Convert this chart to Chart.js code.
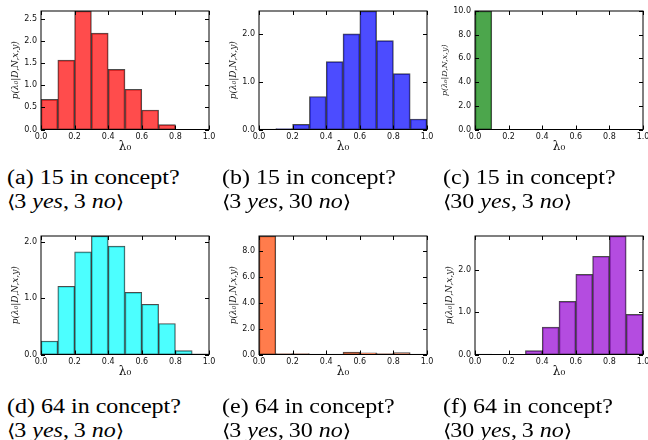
<!DOCTYPE html>
<html>
<head>
<meta charset="utf-8">
<script src="https://cdn.jsdelivr.net/npm/chart.js@4.4.0/dist/chart.umd.min.js"></script>
<style>
  html, body { margin: 0; padding: 0; background: #fff; }
  body { width: 648px; height: 440px; position: relative; overflow: hidden; }
  .panel { position: absolute; }
  .cap {
    position: absolute;
    font-family: "Liberation Serif", "DejaVu Serif", serif;
    font-size: 20px;
    line-height: 24px;
    color: #000;
    white-space: nowrap;
    transform: scaleX(1.2);
    transform-origin: 0 0;
  }
  .cap i { font-style: italic; }
  .cap .br { font-size: 18px; letter-spacing: -1px; }
</style>
</head>
<body>
<script>
// histogram bins of lambda_0 (bin centres) and axis ticks
const binCenters = [0.05, 0.15, 0.25, 0.35, 0.45, 0.55, 0.65, 0.75, 0.85, 0.95];
const xTicks = [0.0, 0.2, 0.4, 0.6, 0.8, 1.0];

// posterior density per bin
const valuesA = [0.68, 1.57, 2.68, 2.18, 1.36, 0.91, 0.44, 0.11, 0, 0];
const valuesB = [0.01, 0.02, 0.11, 0.69, 1.42, 2.00, 2.48, 1.86, 1.17, 0.22];
const valuesC = [10.0, 0, 0, 0, 0, 0, 0, 0, 0, 0];
const valuesD = [0.24, 1.21, 1.82, 2.10, 1.92, 1.10, 0.89, 0.55, 0.07, 0.01];
const valuesE = [9.15, 0.08, 0.08, 0.03, 0.03, 0.18, 0.13, 0.08, 0.15, 0.03];
const valuesF = [0.01, 0, 0, 0.09, 0.65, 1.26, 1.90, 2.33, 2.81, 0.95];

// y axis limits and ticks
const yMaxA = 2.68, yMaxB = 2.48, yMaxC = 10.0, yMaxD = 2.10, yMaxE = 9.15, yMaxF = 2.81;
const yTicksA = [0, 0.5, 1.0, 1.5, 2.0, 2.5];
const yTicksB = [0, 1.0, 2.0];
const yTicksC = [0, 2.0, 4.0, 6.0, 8.0, 10.0];
const yTicksD = [0, 1.0, 2.0];
const yTicksE = [0, 2.0, 4.0, 6.0, 8.0];
const yTicksF = [0, 1.0, 2.0];

// captions
const captionTitles = ['(a) 15 in concept?', '(b) 15 in concept?', '(c) 15 in concept?',
                       '(d) 64 in concept?', '(e) 64 in concept?', '(f) 64 in concept?'];
const captionYes = [3, 3, 30, 3, 3, 30];
const captionNo = [3, 30, 3, 3, 30, 3];

const yTitle = 'p(λ₀|D,N,x,y)';
const xTitle = 'λ₀';

// layout: plot area left/top for each panel
const panels = [
  { values: valuesA, yMax: yMaxA, yTicks: yTicksA, color: 'rgba(255,0,0,0.7)',    left: 41,  top: 11,  titlePad: 10, capX: 7,   capY: 165 },
  { values: valuesB, yMax: yMaxB, yTicks: yTicksB, color: 'rgba(0,0,255,0.7)',    left: 259, top: 11,  titlePad: 10, capX: 222, capY: 165 },
  { values: valuesC, yMax: yMaxC, yTicks: yTicksC, color: 'rgba(0,128,0,0.7)',    left: 475, top: 11,  titlePad: 6,  capX: 443, capY: 165, small: true },
  { values: valuesD, yMax: yMaxD, yTicks: yTicksD, color: 'rgba(0,255,255,0.7)',  left: 41,  top: 236, titlePad: 10, capX: 7,   capY: 394 },
  { values: valuesE, yMax: yMaxE, yTicks: yTicksE, color: 'rgba(255,69,0,0.7)',   left: 259, top: 236, titlePad: 10, capX: 222, capY: 394 },
  { values: valuesF, yMax: yMaxF, yTicks: yTicksF, color: 'rgba(148,0,211,0.7)',  left: 475, top: 236, titlePad: 10, capX: 443, capY: 394 }
];

const PLOT_W = 168, PLOT_H = 118.5, AXIS_W = 41, PAD_TOP = 11, PAD_RIGHT = 10, CANVAS_H = 154;

// matplotlib-like frame with inward ticks on all four sides
const frameTicks = {
  id: 'frameTicks',
  afterDatasetsDraw(chart) {
    const { ctx, chartArea: { left, right, top, bottom }, scales: { x, y } } = chart;
    ctx.save();
    ctx.strokeStyle = '#000';
    ctx.lineWidth = 1;
    ctx.beginPath();
    x.ticks.forEach(t => {
      const px = Math.round(x.getPixelForValue(t.value)) + 0.5;
      ctx.moveTo(px, bottom); ctx.lineTo(px, bottom - 4);
      ctx.moveTo(px, top); ctx.lineTo(px, top + 4);
    });
    y.ticks.forEach(t => {
      const py = Math.round(y.getPixelForValue(t.value)) + 0.5;
      ctx.moveTo(left, py); ctx.lineTo(left + 4, py);
      ctx.moveTo(right, py); ctx.lineTo(right - 4, py);
    });
    ctx.stroke();
    ctx.strokeRect(left, top, right - left, bottom - top);
    ctx.restore();
  }
};

panels.forEach((p, i) => {
  const div = document.createElement('div');
  div.className = 'panel';
  const cw = AXIS_W + PLOT_W + PAD_RIGHT;
  div.style.left = (p.left - AXIS_W) + 'px';
  div.style.top = (p.top - PAD_TOP) + 'px';
  const canvas = document.createElement('canvas');
  canvas.width = cw;
  canvas.height = CANVAS_H;
  div.appendChild(canvas);
  document.body.appendChild(div);

  new Chart(canvas.getContext('2d'), {
    type: 'bar',
    data: {
      datasets: [{
        data: binCenters.map((c, k) => ({ x: c, y: p.values[k] })),
        backgroundColor: p.color,
        borderColor: 'rgba(0,0,0,0.7)',
        borderWidth: 1,
        borderSkipped: false,
        barPercentage: 1.0,
        categoryPercentage: 1.0
      }]
    },
    options: {
      responsive: false,
      animation: false,
      events: [],
      layout: { padding: { left: 0, right: PAD_RIGHT, top: PAD_TOP, bottom: 0 } },
      plugins: { legend: { display: false }, tooltip: { enabled: false } },
      scales: {
        x: {
          type: 'linear',
          min: 0, max: 1,
          offset: false,
          grid: { display: false, drawTicks: false, offset: false },
          border: { display: false },
          afterBuildTicks: s => { s.ticks = xTicks.map(v => ({ value: v })); },
          afterFit: s => { s.height = CANVAS_H - PAD_TOP - PLOT_H; },
          ticks: {
            autoSkip: false, maxRotation: 0, padding: 3,
            color: '#111',
            font: { family: 'DejaVu Sans', size: 8 },
            callback: v => Number(v).toFixed(1)
          },
          title: {
            display: true, text: xTitle, color: '#111',
            padding: { top: 0, bottom: 0 },
            font: { family: 'DejaVu Serif', size: 12 }
          }
        },
        y: {
          min: 0, max: p.yMax,
          grid: { display: false, drawTicks: false },
          border: { display: false },
          afterBuildTicks: s => { s.ticks = p.yTicks.map(v => ({ value: v })); },
          afterFit: s => { s.width = AXIS_W; },
          ticks: {
            autoSkip: false, padding: 4,
            color: '#111',
            font: { family: 'DejaVu Sans', size: 8 },
            callback: v => Number(v).toFixed(1)
          },
          title: {
            display: true, text: yTitle, color: '#222',
            padding: { top: p.titlePad, bottom: 0 },
            font: { family: 'DejaVu Serif', size: p.small ? 8 : 9, style: 'italic' }
          }
        }
      }
    },
    plugins: [frameTicks]
  });

  const cap = document.createElement('div');
  cap.className = 'cap';
  cap.style.left = p.capX + 'px';
  cap.style.top = p.capY + 'px';
  cap.innerHTML = captionTitles[i] + '<br><span class="br">⟨</span>' + captionYes[i] +
                  ' <i>yes</i>,&thinsp;' + captionNo[i] +
                  ' <i>no</i><span class="br">⟩</span>';
  document.body.appendChild(cap);
});
</script>
</body>
</html>
